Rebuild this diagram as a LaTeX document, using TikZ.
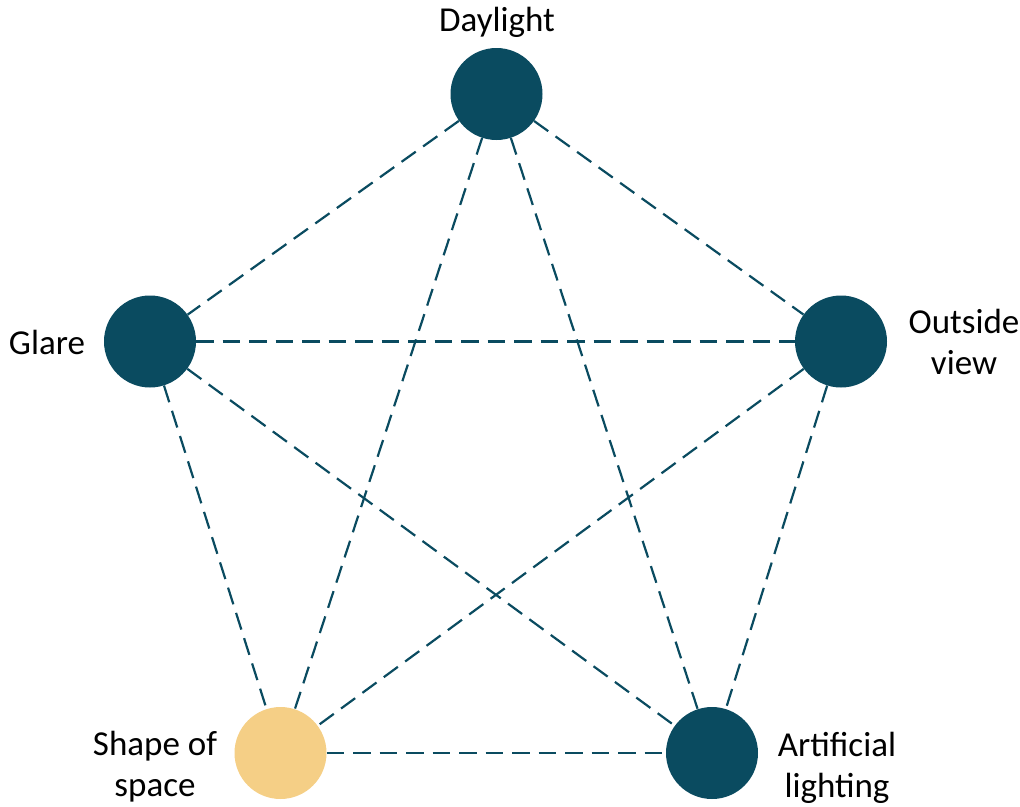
\documentclass[tikz,border=0pt]{standalone}
\usepackage{fontspec}
\setmainfont{Carlito}
\definecolor{teal}{HTML}{0A4B60}
\definecolor{sand}{HTML}{F5CF86}
\begin{document}
\begin{tikzpicture}[x=1pt,y=-1pt,
  ball/.style={circle,fill=teal,minimum size=92pt,inner sep=0pt},
  yball/.style={circle,fill=sand,minimum size=92pt,inner sep=0pt},
  link/.style={draw=teal,line width=2.2pt,dash pattern=on 17.5pt off 9pt},
  lab/.style={font=\fontsize{35}{41}\selectfont,align=center,text=black}]
\useasboundingbox (0,0) rectangle (1020,806);
\node[ball] (day) at (496.5,94) {};
\node[ball] (gla) at (150,341.5) {};
\node[ball] (out) at (841,341.5) {};
\node[yball] (sha) at (280.5,753) {};
\node[ball] (art) at (712,753) {};
\draw[link] (day) -- (gla);
\draw[link] (day) -- (out);
\draw[link] (day) -- (sha);
\draw[link] (day) -- (art);
\draw[link] (gla) -- (out);
\draw[link] (gla) -- (sha);
\draw[link] (gla) -- (art);
\draw[link] (out) -- (sha);
\draw[link] (out) -- (art);
\draw[link] (sha) -- (art);
\node[lab] (tday) at (497,22) {Daylight};
\node[lab] (tgla) at (47,342) {Glare};
\node[lab] (tout) at (964,342) {Outside\\view};
\node[lab] (tsha) at (155,767) {Shape of\\space};
\node[lab] (tart) at (837,768) {Artificial\\lighting};
\end{tikzpicture}
\end{document}
